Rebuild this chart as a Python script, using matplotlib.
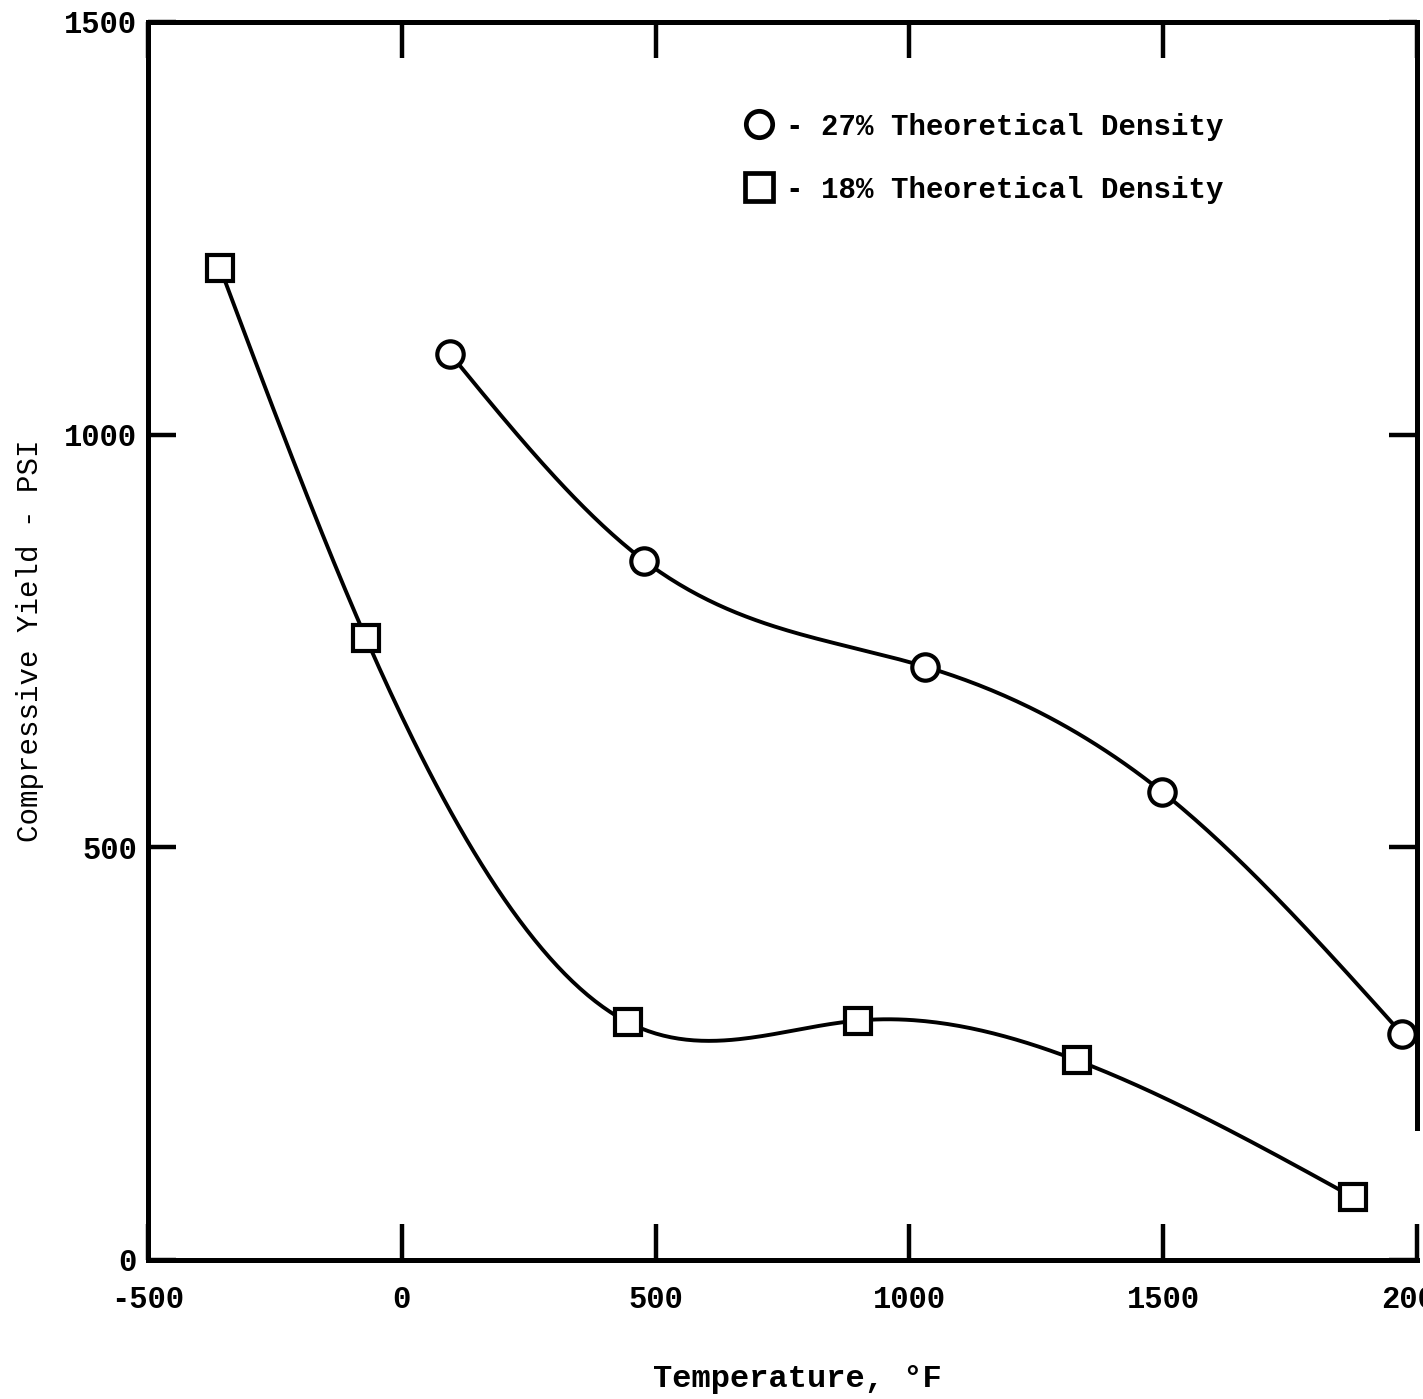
import numpy as np
import matplotlib.pyplot as plt
from matplotlib.lines import Line2D

# data
temp_27 = [95, 478, 1030, 1498, 1970]
yield_27 = [1098, 847, 719, 567, 274]

temp_18 = [-358, -71, 445, 898, 1329, 1874]
yield_18 = [1202, 754, 288, 290, 242, 76]

xticks = [-500, 0, 500, 1000, 1500, 2000]
xtick_labels = ['-500', '0', '500', '1000', '1500', '2000']
yticks = [0, 500, 1000, 1500]
ytick_labels = ['0', '500', '1000', '1500']


def natural_spline(x, y, n=300):
    # smooth curve through the points (natural cubic spline)
    x = np.asarray(x, float)
    y = np.asarray(y, float)
    k = len(x)
    h = np.diff(x)
    A = np.zeros((k, k))
    b = np.zeros(k)
    A[0, 0] = 1
    A[-1, -1] = 1
    for i in range(1, k - 1):
        A[i, i - 1] = h[i - 1]
        A[i, i] = 2 * (h[i - 1] + h[i])
        A[i, i + 1] = h[i]
        b[i] = 6 * ((y[i + 1] - y[i]) / h[i] - (y[i] - y[i - 1]) / h[i - 1])
    M = np.linalg.solve(A, b)
    xs = np.linspace(x[0], x[-1], n)
    idx = np.clip(np.searchsorted(x, xs) - 1, 0, k - 2)
    x0, x1 = x[idx], x[idx + 1]
    hh = x1 - x0
    t0 = x1 - xs
    t1 = xs - x0
    ys = (M[idx] * t0 ** 3 + M[idx + 1] * t1 ** 3) / (6 * hh) \
        + (y[idx] / hh - M[idx] * hh / 6) * t0 \
        + (y[idx + 1] / hh - M[idx + 1] * hh / 6) * t1
    return xs, ys


mono = 'Liberation Mono'

fig = plt.figure(figsize=(14.23, 13.99), dpi=100)
ax = fig.add_axes([0.104, 0.0994, 0.8919, 0.8849])

xs, ys = natural_spline(temp_27, yield_27)
ax.plot(xs, ys, color='black', lw=2.8, zorder=2)
xs, ys = natural_spline(temp_18, yield_18)
ax.plot(xs, ys, color='black', lw=2.8, zorder=2)

ax.plot(temp_27, yield_27, 'o', ms=19, mfc='white', mec='black', mew=3, zorder=3)
ax.plot(temp_18, yield_18, 's', ms=19, mfc='white', mec='black', mew=3, zorder=3)

ax.set_xlim(-500, 2000)
ax.set_ylim(0, 1500)

for s in ax.spines.values():
    s.set_linewidth(3.6)
ax.spines['right'].set_bounds(160, 1500)

ax.set_xticks(xticks)
ax.set_xticklabels(xtick_labels, fontfamily=mono, fontweight='bold', fontsize=22)
ax.set_yticks(yticks)
ax.set_yticklabels(ytick_labels, fontfamily=mono, fontweight='bold', fontsize=22)
ax.tick_params(axis='x', direction='in', length=26, width=3.2, top=True, pad=18)
ax.tick_params(axis='y', direction='in', length=20, width=3.2, right=True, pad=8)

ax.set_xlabel('Temperature, °F', fontfamily=mono, fontweight='bold', fontsize=23, labelpad=38)
ax.xaxis.set_label_coords(0.512, -0.084)
ax.set_ylabel('Compressive Yield - PSI', fontfamily=mono, fontsize=21, labelpad=14)

handles = [
    Line2D([], [], ls='none', marker='o', ms=19, mfc='white', mec='black', mew=3.4),
    Line2D([], [], ls='none', marker='s', ms=20, mfc='white', mec='black', mew=3.4),
]
labels = ['- 27% Theoretical Density', '- 18% Theoretical Density']
ax.legend(handles, labels, loc='upper left', bbox_to_anchor=(0.449, 0.948),
          frameon=False, handlelength=1.0, handletextpad=0.45, labelspacing=1.2,
          prop={'family': mono, 'weight': 'bold', 'size': 21})

fig.savefig('out.png', dpi=100)
